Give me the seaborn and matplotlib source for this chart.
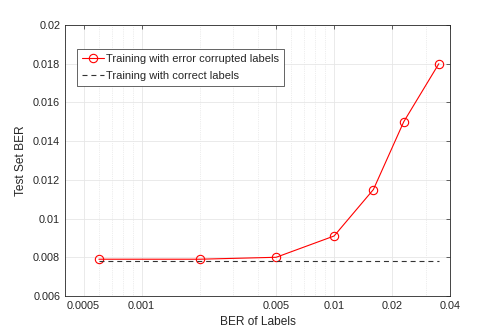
import numpy as np
import pandas as pd
import matplotlib
matplotlib.use('Agg')
import matplotlib.pyplot as plt
import seaborn as sns

# dados
ber_labels = [0.0006, 0.002, 0.005, 0.01, 0.016, 0.023, 0.035]
ber_corrupted = [0.0079, 0.0079, 0.0080, 0.0091, 0.0115, 0.0150, 0.0180]
ber_correct = [0.0078, 0.0078, 0.0078, 0.0078, 0.0078, 0.0078, 0.0078]
x_ticks = [0.0005, 0.001, 0.005, 0.01, 0.02, 0.04]
x_ticklabels = ['0.0005', '0.001', '0.005', '0.01', '0.02', '0.04']
y_ticks = [0.006, 0.008, 0.01, 0.012, 0.014, 0.016, 0.018, 0.02]
y_ticklabels = ['0.006', '0.008', '0.01', '0.012', '0.014', '0.016', '0.018', '0.02']

sns.set_style('white')
plt.rcParams['font.family'] = ['Liberation Sans', 'DejaVu Sans']

df = pd.DataFrame({'x': ber_labels, 'corrupted': ber_corrupted, 'correct': ber_correct})

fig = plt.figure(figsize=(4.98, 3.32), dpi=100)
ax = fig.add_axes([65 / 498, 1 - 296 / 332, 385 / 498, 271 / 332])

sns.lineplot(data=df, x='x', y='corrupted', ax=ax, color='#ff0000', linewidth=0.8,
             marker='o', markersize=6, markerfacecolor='none', markeredgecolor='#ff0000',
             markeredgewidth=0.8, label='Training with error corrupted labels')
sns.lineplot(data=df, x='x', y='correct', ax=ax, color='#333333', linewidth=0.8,
             linestyle=(0, (4.5, 3.5)), label='Training with correct labels')

ax.set_xscale('log')
ax.set_xlim(0.0004, 0.04)
ax.set_ylim(0.006, 0.02)
ax.set_xticks(x_ticks)
ax.set_xticklabels(x_ticklabels)
ax.set_yticks(y_ticks)
ax.set_yticklabels(y_ticklabels)
ax.xaxis.set_minor_locator(matplotlib.ticker.LogLocator(base=10, subs=np.arange(2, 10)))
ax.xaxis.set_minor_formatter(matplotlib.ticker.NullFormatter())

ax.grid(True, which='major', color='#e6e6e6', linewidth=0.6, linestyle='-')
ax.grid(True, which='minor', axis='x', color='#dcdcdc', linewidth=0.5, linestyle=':')
ax.set_axisbelow(True)

ax.tick_params(which='both', direction='in', top=True, right=True, colors='#262626',
               labelsize=7.8, length=3, width=0.5)
ax.tick_params(which='minor', length=0)
for s in ax.spines.values():
    s.set_color('#262626')
    s.set_linewidth(0.6)

ax.set_xlabel('BER of Labels', fontsize=8.6, color='#262626')
ax.set_ylabel('Test Set BER', fontsize=8.6, color='#262626')

leg = ax.legend(loc='upper left', bbox_to_anchor=(0.031, 0.911), fontsize=8.0, frameon=True,
                fancybox=False, edgecolor='#262626', framealpha=1, borderpad=0.45,
                borderaxespad=0, handlelength=2.0, handletextpad=0.18, labelspacing=0.65)
leg.get_frame().set_linewidth(0.5)

fig.savefig('out.png', dpi=100)
